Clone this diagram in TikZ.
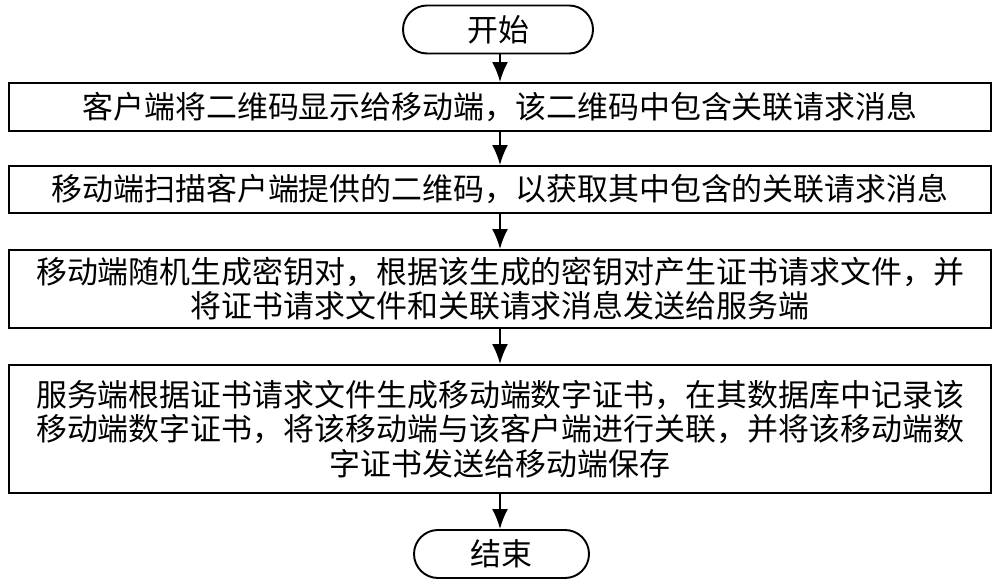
\documentclass[tikz,border=0pt]{standalone}
\usepackage{fontspec}
\usepackage{tikz}
\usetikzlibrary{arrows.meta,positioning,shapes}
\newfontfamily\cjk{Noto Sans CJK SC}
\tikzset{%
	startstop/.style= {draw, rectangle, rounded corners=0.48cm, minimum height=0.96cm, text centered, line width=1.1pt},
	process/.style  = {draw, rectangle, minimum width=19.64cm, text centered, align=center, inner sep=0pt, line width=1.1pt},
	arrow/.style    = {line width=1.1pt,-{Latex[length=4mm,width=3.2mm]}},
}
\begin{document}
\begin{tikzpicture}[font=\cjk\fontsize{17.6}{19.5}\selectfont]
	\useasboundingbox (0,0) rectangle (20,11.72);
	\node[startstop, minimum width=3.8cm] (start) at (9.96,11.13) {开始};
	\node[process, minimum height=0.96cm] (client) at (10,9.58) {客户端将二维码显示给移动端，该二维码中包含关联请求消息};
	\node[process, minimum height=0.94cm] (scan) at (10,7.93) {移动端扫描客户端提供的二维码，以获取其中包含的关联请求消息};
	\node[process, minimum height=1.56cm] (keys) at (10,5.94) {移动端随机生成密钥对，根据该生成的密钥对产生证书请求文件，并\\将证书请求文件和关联请求消息发送给服务端};
	\node[process, minimum height=2.56cm] (server) at (10,3.14) {服务端根据证书请求文件生成移动端数字证书，在其数据库中记录该\\移动端数字证书，将该移动端与该客户端进行关联，并将该移动端数\\字证书发送给移动端保存};
	\node[startstop, minimum width=3.5cm] (stop) at (10.03,0.64) {结束};
	
	\draw[arrow] (start.south -| client.north) -- (client.north);
	\draw[arrow] (client) -- (scan);
	\draw[arrow] (scan) -- (keys);
	\draw[arrow] (keys) -- (server);
	\draw[arrow] (server.south) -- (server.south |- stop.north);
\end{tikzpicture}
\end{document}
